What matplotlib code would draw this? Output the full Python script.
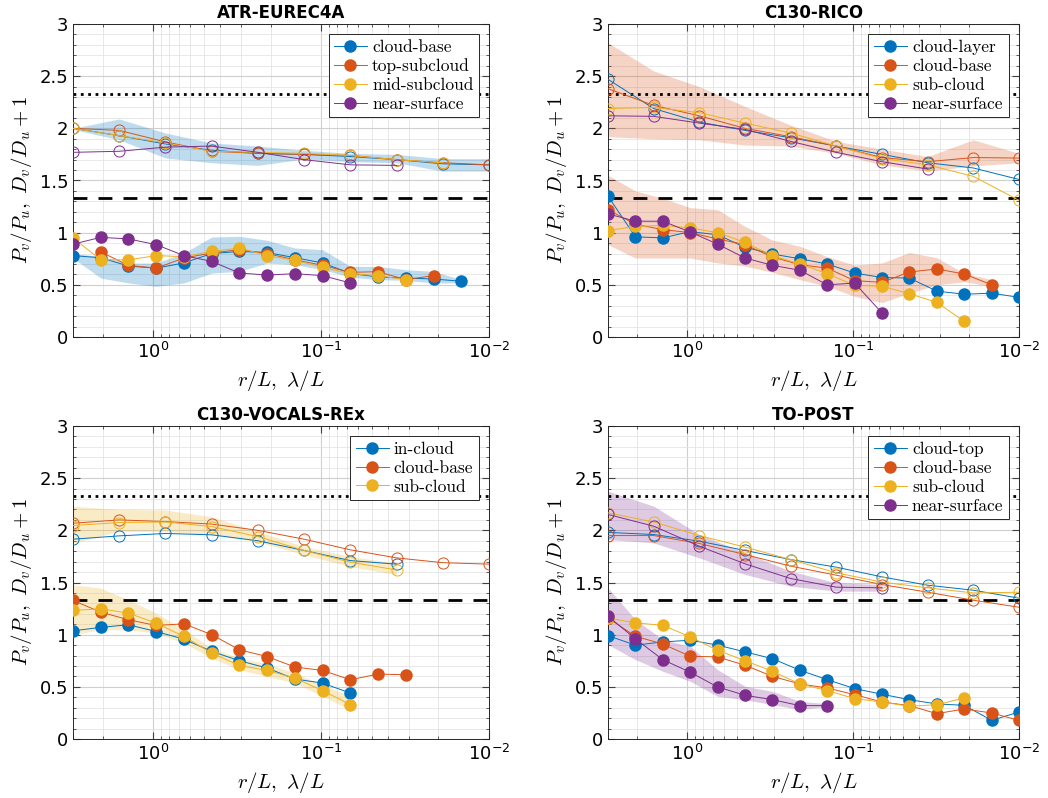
import matplotlib.pyplot as plt
import matplotlib.ticker as mticker
import numpy as np

# separations r/L (filled, P ratio) and wavelengths lambda/L (open, D ratio)
x_filled = [3.0, 2.051, 1.402, 0.9586, 0.6554, 0.4481, 0.3063, 0.2094, 0.1432,
            0.0979, 0.0669, 0.0458, 0.0313, 0.0214, 0.0146, 0.0100]
x_open = [3.0, 1.592, 0.8446, 0.4481, 0.2378, 0.1262, 0.0669, 0.0355, 0.01885, 0.0100]

colors = ['#0072BD', '#D95319', '#EDB120', '#7E2F8E']

# ---- ATR-EUREC4A ----
atr_labels = ['cloud-base', 'top-subcloud', 'mid-subcloud', 'near-surface']
atr_P_cb = [0.78, 0.76, 0.68, 0.66, 0.71, 0.80, 0.82, 0.81, 0.76, 0.71, 0.61, 0.575, 0.565, 0.556, 0.534]
atr_P_top = [np.nan, 0.815, 0.687, 0.66, 0.757, 0.805, 0.837, 0.80, 0.74, 0.687, 0.62, 0.626, 0.55, 0.588]
atr_P_mid = [0.95, 0.74, 0.74, 0.78, 0.77, 0.82, 0.853, 0.78, 0.735, 0.668, 0.607, 0.588, 0.55]
atr_P_ns = [0.89, 0.955, 0.94, 0.885, 0.78, 0.725, 0.613, 0.594, 0.607, 0.588, 0.518]
atr_D_cb = [2.0, 1.93, 1.85, 1.79, 1.76, 1.75, 1.73, 1.70, 1.66, 1.65]
atr_D_top = [2.0, 1.98, 1.87, 1.78, 1.76, 1.75, 1.74, 1.70, 1.67, 1.65]
atr_D_mid = [2.0, 1.93, 1.86, 1.78, 1.77, 1.76, 1.74, 1.70, 1.67]
atr_D_ns = [1.77, 1.78, 1.82, 1.83, 1.77, 1.70, 1.65, 1.645]
atr_Pband_lo = [0.757, 0.565, 0.518, 0.486, 0.518, 0.613, 0.629, 0.709, 0.693, 0.645, 0.575, 0.55, 0.543, 0.518, 0.518]
atr_Pband_hi = [0.80, 0.773, 0.709, 0.709, 0.805, 0.958, 0.965, 0.927, 0.853, 0.837, 0.677, 0.677, 0.645, 0.629, 0.55]
atr_Dband_lo = [1.99, 1.89, 1.716, 1.67, 1.645, 1.706, 1.68, 1.67, 1.59, 1.59]
atr_Dband_hi = [2.0, 2.09, 1.955, 1.86, 1.83, 1.79, 1.76, 1.75, 1.71, 1.71]

# ---- C130-RICO ----
rico_labels = ['cloud-layer', 'cloud-base', 'sub-cloud', 'near-surface']
rico_P_cl = [1.35, 0.96, 0.95, 1.01, 0.98, 0.86, 0.795, 0.75, 0.70, 0.613, 0.57, 0.565, 0.44, 0.41, 0.42, 0.38]
rico_P_cb = [1.22, 1.08, 1.03, 1.0, 0.94, 0.885, 0.767, 0.693, 0.66, 0.54, 0.524, 0.623, 0.652, 0.604, 0.50]
rico_P_sc = [1.02, 1.06, 1.07, 1.045, 1.0, 0.907, 0.78, 0.70, 0.607, 0.495, 0.486, 0.415, 0.332, 0.15]
rico_P_ns = [1.18, 1.11, 1.11, 1.006, 0.89, 0.757, 0.687, 0.64, 0.50, 0.517, 0.23]
rico_D_cl = [2.47, 2.19, 2.06, 1.98, 1.91, 1.83, 1.75, 1.67, 1.62, 1.51]
rico_D_cb = [2.38, 2.22, 2.12, 2.0, 1.92, 1.83, 1.72, 1.68, 1.72, 1.715]
rico_D_sc = [2.19, 2.2, 2.15, 2.05, 1.955, 1.83, 1.71, 1.65, 1.54, 1.31]
rico_D_ns = [2.12, 2.115, 2.05, 1.99, 1.875, 1.77, 1.68, 1.61]
rico_Pband_lo = [0.885, 0.757, 0.757, 0.757, 0.71, 0.68, 0.62, 0.55, 0.486, 0.39, 0.33, 0.42, 0.50, 0.53, 0.486]
rico_Pband_hi = [1.55, 1.40, 1.33, 1.24, 1.22, 1.06, 0.93, 0.87, 0.77, 0.69, 0.71, 0.81, 0.76, 0.61, 0.55]
rico_Dband_lo = [1.92, 1.90, 1.89, 1.84, 1.83, 1.76, 1.65, 1.59, 1.64, 1.67]
rico_Dband_hi = [2.82, 2.55, 2.40, 2.21, 2.03, 1.875, 1.80, 1.73, 1.89, 1.76]

# ---- C130-VOCALS-REx ----
voc_labels = ['in-cloud', 'cloud-base', 'sub-cloud']
voc_P_ic = [1.037, 1.07, 1.095, 1.03, 0.957, 0.84, 0.75, 0.68, 0.575, 0.536, 0.44]
voc_P_cb = [1.328, 1.216, 1.143, 1.088, 1.104, 1.0, 0.855, 0.79, 0.69, 0.657, 0.568, 0.622, 0.616]
voc_P_sc = [1.232, 1.248, 1.206, 1.11, 0.983, 0.823, 0.705, 0.657, 0.584, 0.463, 0.33]
voc_D_ic = [1.915, 1.947, 1.97, 1.957, 1.90, 1.807, 1.71, 1.676]
voc_D_cb = [2.068, 2.10, 2.084, 2.06, 2.0, 1.915, 1.813, 1.736, 1.69, 1.676]
voc_D_sc = [2.046, 2.075, 2.08, 2.036, 1.94, 1.807, 1.695, 1.62]
voc_Pband_lo = [1.0, 1.047, 1.047, 1.015, 0.92, 0.776, 0.664, 0.60, 0.536, 0.41, 0.28]
voc_Pband_hi = [1.478, 1.446, 1.334, 1.206, 1.047, 0.871, 0.776, 0.72, 0.632, 0.52, 0.41]
voc_Dband_lo = [1.877, 1.99, 1.99, 1.957, 1.89, 1.765, 1.653, 1.574]
voc_Dband_hi = [2.23, 2.20, 2.195, 2.13, 1.99, 1.845, 1.75, 1.685]

# ---- TO-POST ----
post_labels = ['cloud-top', 'cloud-base', 'sub-cloud', 'near-surface']
post_P_ct = [0.99, 0.90, 0.93, 0.947, 0.90, 0.835, 0.77, 0.659, 0.569, 0.483, 0.429, 0.377, 0.336, 0.323, 0.179, 0.259]
post_P_cb = [1.16, 0.985, 0.91, 0.793, 0.787, 0.707, 0.60, 0.528, 0.489, 0.425, 0.355, 0.32, 0.243, 0.288, 0.249, 0.179]
post_P_sc = [1.16, 1.113, 1.09, 0.979, 0.85, 0.751, 0.649, 0.528, 0.464, 0.387, 0.355, 0.313, 0.329, 0.393]
post_P_ns = [1.177, 0.96, 0.76, 0.64, 0.499, 0.419, 0.377, 0.32, 0.32]
post_D_ct = [1.98, 1.96, 1.896, 1.807, 1.72, 1.647, 1.554, 1.474, 1.426, 1.35]
post_D_cb = [1.95, 1.95, 1.874, 1.768, 1.657, 1.57, 1.48, 1.407, 1.33, 1.263]
post_D_sc = [2.168, 2.08, 1.95, 1.839, 1.72, 1.593, 1.503, 1.449, 1.40, 1.407]
post_D_ns = [2.152, 2.04, 1.848, 1.679, 1.538, 1.455, 1.449]
post_Pband_lo = [0.905, 0.761, 0.649, 0.553, 0.409, 0.377, 0.329, 0.281, 0.313]
post_Pband_hi = [1.449, 1.145, 0.953, 0.889, 0.665, 0.505, 0.457, 0.361, 0.339]
post_Dband_lo = [1.912, 1.88, 1.736, 1.577, 1.465, 1.417, 1.417]
post_Dband_hi = [2.376, 2.232, 1.96, 1.785, 1.609, 1.497, 1.48]

plt.rcParams['mathtext.fontset'] = 'cm'

panels = [
    ('ATR-EUREC4A', atr_labels, [atr_P_cb, atr_P_top, atr_P_mid, atr_P_ns],
     [atr_D_cb, atr_D_top, atr_D_mid, atr_D_ns], 0,
     (atr_Pband_lo, atr_Pband_hi), (atr_Dband_lo, atr_Dband_hi)),
    ('C130-RICO', rico_labels, [rico_P_cl, rico_P_cb, rico_P_sc, rico_P_ns],
     [rico_D_cl, rico_D_cb, rico_D_sc, rico_D_ns], 1,
     (rico_Pband_lo, rico_Pband_hi), (rico_Dband_lo, rico_Dband_hi)),
    ('C130-VOCALS-REx', voc_labels, [voc_P_ic, voc_P_cb, voc_P_sc],
     [voc_D_ic, voc_D_cb, voc_D_sc], 2,
     (voc_Pband_lo, voc_Pband_hi), (voc_Dband_lo, voc_Dband_hi)),
    ('TO-POST', post_labels, [post_P_ct, post_P_cb, post_P_sc, post_P_ns],
     [post_D_ct, post_D_cb, post_D_sc, post_D_ns], 3,
     (post_Pband_lo, post_Pband_hi), (post_Dband_lo, post_Dband_hi)),
]

fig = plt.figure(figsize=(10.48, 7.98), dpi=100)
W, H = 1048, 798
boxes = [(73, 24, 489, 337), (608, 24, 1019, 337),
         (73, 426, 489, 739), (608, 426, 1019, 739)]


def yfmt(v, pos):
    return ('%g' % v)


for (title, labels, P, D, bi, Pband, Dband), (l, t, r, b) in zip(panels, boxes):
    ax = fig.add_axes([l / W, (H - b) / H, (r - l) / W, (b - t) / H])
    ax.set_xscale('log')
    ax.set_xlim(3, 0.01)
    ax.set_ylim(0, 3)

    c = colors[bi]
    nP = len(Pband[0])
    nD = len(Dband[0])
    ax.fill_between(x_filled[:nP], Pband[0], Pband[1], color=c, alpha=0.25,
                    linewidth=0, zorder=1)
    ax.fill_between(x_open[:nD], Dband[0], Dband[1], color=c, alpha=0.25,
                    linewidth=0, zorder=1)

    ax.axhline(7 / 3, color='k', ls=':', lw=2, zorder=2)
    ax.axhline(4 / 3, color='k', ls=(0, (5, 4)), lw=2, zorder=2)

    for i, (yp, yd) in enumerate(zip(P, D)):
        ax.plot(x_open[:len(yd)], yd, '-o', color=colors[i], lw=0.7, ms=8,
                mfc='none', mec=colors[i], mew=0.7, zorder=3 + i)
        ax.plot(x_filled[:len(yp)], yp, '-o', color=colors[i], lw=0.7, ms=8,
                mfc=colors[i], mec=colors[i], label=labels[i], zorder=3 + i)

    ax.set_title(title, fontsize=12, fontweight='bold', pad=4)
    ax.set_xlabel(r'$r/L,\ \lambda/L$', fontsize=15, labelpad=4)
    ax.set_ylabel(r'$P_v/P_u,\ D_v/D_u+1$', fontsize=15, labelpad=4)

    ax.set_yticks(np.arange(0, 3.01, 0.5))
    ax.yaxis.set_major_formatter(mticker.FuncFormatter(yfmt))
    ax.yaxis.set_minor_locator(mticker.MultipleLocator(0.1))
    ax.xaxis.set_major_locator(mticker.LogLocator(base=10, numticks=10))
    ax.xaxis.set_minor_locator(mticker.LogLocator(base=10, subs=np.arange(2, 10), numticks=20))
    ax.xaxis.set_minor_formatter(mticker.NullFormatter())
    ax.tick_params(which='both', direction='in', labelsize=13, color='#404040',
                   top=True, right=True)
    ax.tick_params(which='major', length=5)
    ax.tick_params(which='minor', length=2.5)
    ax.grid(which='major', color='#cfcfcf', lw=0.8, zorder=0)
    ax.grid(which='minor', color='#e4e4e4', lw=0.6, zorder=0)
    ax.set_axisbelow(True)
    for s in ax.spines.values():
        s.set_color('#262626')
        s.set_linewidth(0.7)

    leg = ax.legend(loc='upper right', prop={'family': 'cmr10', 'size': 12.5},
                    fancybox=False, framealpha=1, edgecolor='#262626',
                    handlelength=1.9, handletextpad=0.3, borderaxespad=0.6,
                    labelspacing=0.2, borderpad=0.3)
    leg.get_frame().set_linewidth(0.7)
    leg.set_zorder(10)

fig.savefig('out.png', dpi=100)
